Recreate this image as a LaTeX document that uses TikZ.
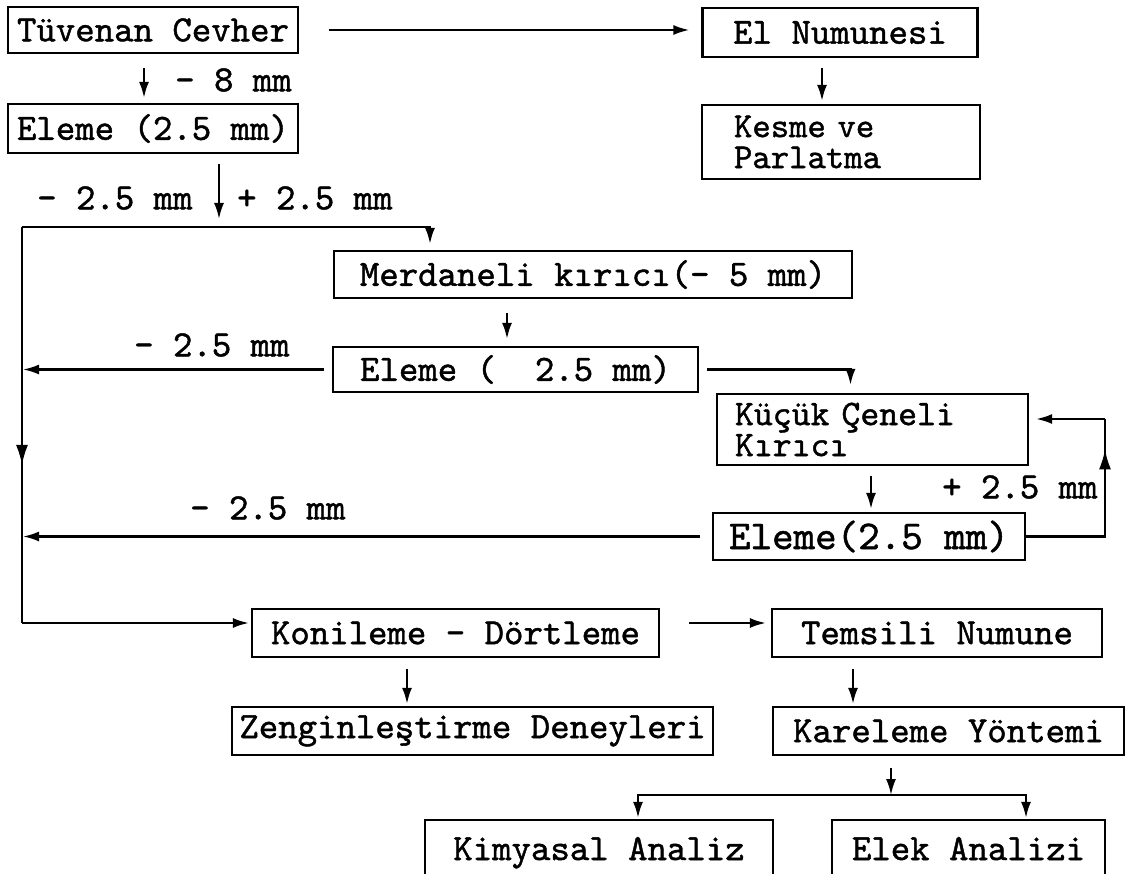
\documentclass[tikz,border=0pt]{standalone}
\usepackage{fontspec}
\usetikzlibrary{arrows.meta,decorations.markings}
\newfontfamily\tfx{lmmono10-regular.otf}[FakeBold=1.2]
\newcommand\tf{\tfx\fontsize{37}{40}\selectfont}
\begin{document}
\begin{tikzpicture}[x=1pt,y=-1pt,
  box/.style={draw, line width=2.2pt, inner sep=0pt, font=\tf},
  lbl/.style={inner sep=0pt, anchor=west, font=\tf},
  line/.style={line width=2.2pt},
  arr/.style={line width=2.2pt, -{Latex[length=16pt,width=10pt]}},
  midarrow/.style={postaction={decorate}, decoration={markings, mark=at position #1 with {\arrow{Latex[length=20pt,width=12pt]}}}}
]
\fill[white] (0,0) rectangle (1128,874);
\useasboundingbox (0,0) rectangle (1128,874);

% boxes
\node[box, minimum width=290pt, minimum height=46pt] (tc) at (153,30) {Tüvenan Cevher};
\node[box, minimum width=290pt, minimum height=49pt] (e1) at (153,128.5) {Eleme (2.5 mm)};
\node[box, minimum width=275pt, minimum height=49pt] (el) at (840,32.5) {El Numunesi};
\node[box, minimum width=278pt, minimum height=74pt, text width=214pt, align=left, font={\tfx\fontsize{35}{31}\selectfont}] (kp) at (841,142) {Kesme ve\\Parlatma};
\node[box, minimum width=518pt, minimum height=47pt] (md) at (593,274.5) {Merdaneli kırıcı(- 5 mm)};
\node[box, minimum width=365pt, minimum height=45pt] (e2) at (515.5,369.5) {Eleme (~~2.5 mm)};
\node[box, minimum width=311pt, minimum height=71pt, text width=275pt, align=left, font={\tfx\fontsize{36}{31}\selectfont}] (kc) at (872.5,429.5) {Küçük Çeneli\\Kırıcı};
\node[box, minimum width=312pt, minimum height=47pt, font={\tfx\fontsize{41}{44}\selectfont}] (e3) at (869,536.5) {Eleme(2.5 mm)};
\node[box, minimum width=407pt, minimum height=48pt] (kd) at (455.5,633) {Konileme - Dörtleme};
\node[box, minimum width=330pt, minimum height=48pt] (tn) at (937,633) {Temsili Numune};
\node[box, minimum width=481pt, minimum height=48pt] (zd) at (472.5,731) {Zenginleştirme Deneyleri};
\node[box, minimum width=351pt, minimum height=48pt] (ky) at (948.5,731) {Kareleme Yöntemi};
\node[box, minimum width=348pt, minimum height=70pt] (ka) at (599,855) {\raisebox{13pt}{Kimyasal Analiz}};
\node[box, minimum width=273pt, minimum height=70pt] (ea) at (968.5,855) {\raisebox{13pt}{Elek Analizi}};

% labels
\node[lbl] (l1) at (175,80) {- 8 mm};
\node[lbl] (l2) at (37,198) {- 2.5 mm};
\node[lbl] (l3) at (237,198) {+ 2.5 mm};
\node[lbl] (l4) at (134,345) {- 2.5 mm};
\node[lbl] (l5) at (190,508) {- 2.5 mm};
\node[lbl] (l6) at (942,487) {+ 2.5 mm};

% junction coordinates
\coordinate (j1) at (219,227);
\coordinate (tl) at (22,227);
\coordinate (bl) at (22,623);
\coordinate (rb) at (1105,536.5);
\coordinate (rt) at (1105,419);
\coordinate (j2) at (891,795);

% connectors
\draw[arr, shorten <=30pt, shorten >=12pt] (tc.east) -- (tc.east -| el.west);
\draw[arr, shorten <=14pt, shorten >=5pt] ([xshift=-9pt]tc.south) coordinate (a1) -- (a1 |- e1.north);
\draw[arr, shorten <=10pt, shorten >=3pt] ([xshift=-18pt]el.south) coordinate (a2) -- (a2 |- kp.north);
\draw[arr, shorten <=10pt, shorten >=8pt] ([xshift=66pt]e1.south) -- (j1);
\draw[arr, shorten >=6pt] (tl) -| ([xshift=-163pt]md.north);
\draw[arr, shorten <=14pt, shorten >=7pt] ([xshift=-86pt]md.south) coordinate (a3) -- (a3 |- e2.north);
\draw[arr, shorten <=8pt, shorten >=1pt] (e2.west) -- (e2.west -| tl);
\draw[arr, shorten <=8pt, shorten >=8pt] (e2.east) -| ([xshift=-22pt]kc.north);
\draw[arr, shorten <=10pt, shorten >=3pt] ([xshift=-1.5pt]kc.south) coordinate (a4) -- (a4 |- e3.north);
\draw[arr, shorten <=12pt, shorten >=1pt] (e3.west) -- (e3.west -| tl);
\draw[line, midarrow=166pt] (e3.east) -- (rb) -- (rt);
\draw[arr, shorten >=7pt] (rt) -- (rt -| kc.east);
\draw[line, midarrow=238pt] (tl) -- (bl);
\draw[arr, shorten >=2pt] (bl) -- (bl -| kd.west);
\draw[arr, shorten <=29pt, shorten >=5pt] ([yshift=10pt]kd.east) coordinate (a5) -- (a5 -| tn.west);
\draw[arr, shorten <=11pt, shorten >=2pt] ([xshift=-48.5pt]kd.south) coordinate (a6) -- (a6 |- zd.north);
\draw[arr, shorten <=11pt, shorten >=2pt] ([xshift=-84pt]tn.south) coordinate (a7) -- (a7 |- ky.north);
\draw[arr, shorten <=12pt] ([xshift=-57.5pt]ky.south) -- (j2);
\draw[arr, shorten >=1pt] (j2) -| ([xshift=39pt]ka.north);
\draw[arr, shorten >=1pt] (j2) -| ([xshift=57.5pt]ea.north);
\end{tikzpicture}
\end{document}
